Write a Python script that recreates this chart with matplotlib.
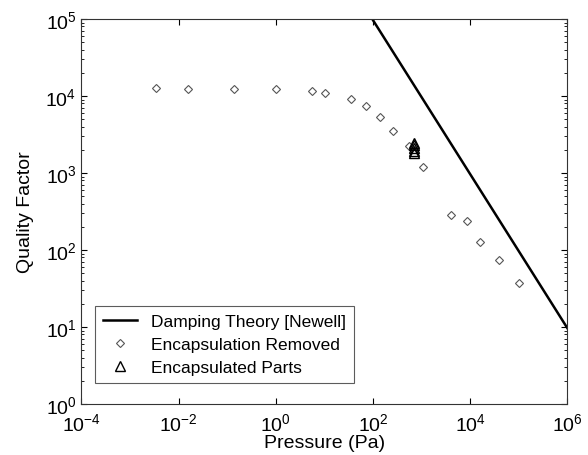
import numpy as np
import matplotlib
matplotlib.use("Agg")
import matplotlib.pyplot as plt
from matplotlib.ticker import LogLocator, NullLocator

plt.rcParams['font.family'] = ['Liberation Sans', 'DejaVu Sans']

# measured data, encapsulation removed
p_removed = [0.0034, 0.0159, 0.138, 1.03, 5.6, 10.3, 35, 71, 142, 265, 561,
             1050, 4050, 8750, 16200, 40000, 103000]
q_removed = [12700, 12400, 12400, 12200, 11500, 10900, 9100, 7350, 5380, 3540, 2220,
             1190, 287, 238, 128, 75, 37]

# encapsulated parts (all near 700 Pa)
p_encap = [711, 711, 711, 711, 711]
q_encap = [2450, 2280, 2120, 1960, 1840]

# damping theory, Q ~ C / P
p_theory = [1e1, 1e6]
theory_const = 9.7e6

fig = plt.figure(figsize=(5.88, 4.56), dpi=100)
ax = fig.add_axes([0.1383, 0.1118, 0.8265, 0.8443])

pt = np.array(p_theory)
ax.plot(pt, theory_const / pt, color='black', lw=1.8, label='Damping Theory [Newell]')
ax.plot(p_removed, q_removed, ls='none', marker='D', ms=4.5, mfc='white',
        mec='#555555', mew=0.8, label='Encapsulation Removed')
ax.plot(p_encap, q_encap, ls='none', marker='^', ms=7, mfc='none',
        mec='black', mew=1.0, label='Encapsulated Parts')

ax.set_xscale('log')
ax.set_yscale('log')
ax.set_xlim(1e-4, 1e6)
ax.set_ylim(1e0, 1e5)
ax.set_xticks([1e-4, 1e-2, 1e0, 1e2, 1e4, 1e6])
ax.xaxis.set_minor_locator(NullLocator())
ax.yaxis.set_major_locator(LogLocator(base=10, numticks=10))
ax.yaxis.set_minor_locator(LogLocator(base=10, subs=np.arange(2, 10), numticks=20))

ax.tick_params(which='both', direction='in', top=True, right=True, labelsize=14)
ax.tick_params(which='major', length=4, width=0.8)
ax.tick_params(which='minor', length=2.5, width=0.6)
ax.tick_params(axis='x', pad=6)
for s in ax.spines.values():
    s.set_linewidth(0.8)
    s.set_color('#333333')

ax.set_xlabel('Pressure (Pa)', fontsize=14, labelpad=0)
ax.set_ylabel('Quality Factor', fontsize=14, labelpad=8)

leg = ax.legend(loc='lower left', bbox_to_anchor=(0.01, 0.032), fontsize=12.5,
                frameon=True, fancybox=False, edgecolor='#333333',
                handlelength=2.0, borderpad=0.45, labelspacing=0.45, handletextpad=0.8)
leg.get_frame().set_linewidth(0.8)

fig.savefig('out.png', dpi=100)
